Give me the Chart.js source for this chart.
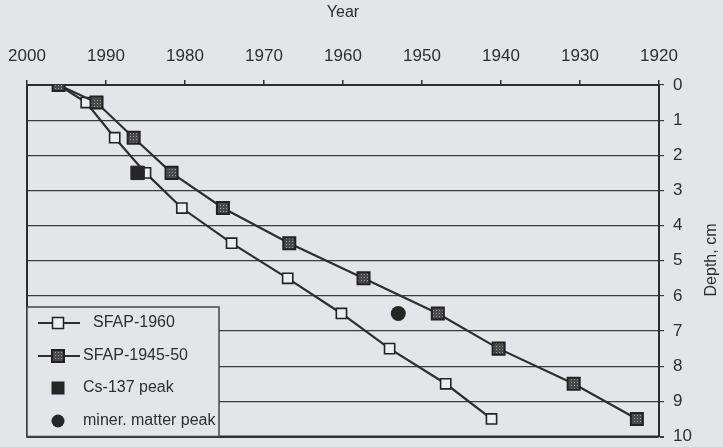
<!DOCTYPE html>
<html>
<head>
<meta charset="utf-8">
<script src="https://cdn.jsdelivr.net/npm/chart.js@4"></script>
<style>
  html, body { margin: 0; padding: 0; background: #e3e5e8; }
  canvas { display: block; }
</style>
</head>
<body>
<canvas id="grafico" width="723" height="447"></canvas>
<script>
// dados (ano x profundidade)
const depths = [0, 0.5, 1.5, 2.5, 3.5, 4.5, 5.5, 6.5, 7.5, 8.5, 9.5];
const years1960 = [1996, 1992.5, 1988.9, 1985.0, 1980.4, 1974.1, 1967.0, 1960.2, 1954.1, 1947.0, 1941.2];
const years194550 = [1996, 1991.2, 1986.5, 1981.7, 1975.2, 1966.8, 1957.4, 1948.0, 1940.3, 1930.8, 1922.8];
const csYear = [1986];
const csDepth = [2.5];
const minerYear = [1953];
const minerDepth = [6.5];
const yearTicks = [2000, 1990, 1980, 1970, 1960, 1950, 1940, 1930, 1920];
const depthTicks = [0, 1, 2, 3, 4, 5, 6, 7, 8, 9, 10];

const BG = '#e3e5e8';
const INK = '#2e2e2e';

function pontos(xs, ys) {
    return xs.map((x, i) => ({ x, y: ys[i] }));
}

// padrão pontilhado dos quadrados escuros
function padraoEscuro() {
    const c = document.createElement('canvas');
    c.width = 3; c.height = 3;
    const g = c.getContext('2d');
    g.fillStyle = '#4a4a4a';
    g.fillRect(0, 0, 3, 3);
    g.fillStyle = '#9c9c9c';
    g.fillRect(1, 1, 1, 1);
    return g.createPattern(c, 'repeat');
}
const hatch = padraoEscuro();

// fundo + moldura esquerda/inferior
const molduraPlugin = {
    id: 'moldura',
    beforeDraw(chart) {
        const ctx = chart.ctx;
        ctx.save();
        ctx.fillStyle = BG;
        ctx.fillRect(0, 0, chart.width, chart.height);
        ctx.restore();
    },
    beforeDatasetsDraw(chart) {
        const { ctx, chartArea: a } = chart;
        ctx.save();
        ctx.strokeStyle = INK;
        ctx.lineWidth = 2;
        ctx.beginPath();
        ctx.moveTo(a.left, a.top);
        ctx.lineTo(a.left, a.bottom);
        ctx.lineTo(a.right, a.bottom);
        ctx.stroke();
        ctx.restore();
    },
    afterDraw(chart) {
        // título do eixo Y (lido de baixo para cima)
        const ctx = chart.ctx;
        ctx.save();
        ctx.translate(712, 260);
        ctx.rotate(-Math.PI / 2);
        ctx.fillStyle = INK;
        ctx.font = '16px "Liberation Sans", Arial, sans-serif';
        ctx.textAlign = 'center';
        ctx.textBaseline = 'middle';
        ctx.fillText('Depth, cm', 0, 0);
        ctx.restore();
    },
};

// legenda dentro da área do gráfico, com caixa
const legendaPlugin = {
    id: 'legendaCaixa',
    afterDatasetsDraw(chart) {
        const { ctx, chartArea: a } = chart;
        const x0 = a.left, y0 = 307, x1 = 219, y1 = a.bottom;
        ctx.save();
        ctx.fillStyle = BG;
        ctx.fillRect(x0, y0, x1 - x0, y1 - y0);
        ctx.strokeStyle = '#444';
        ctx.lineWidth = 1.5;
        ctx.strokeRect(x0, y0, x1 - x0, y1 - y0);

        ctx.font = '16px "Liberation Sans", Arial, sans-serif';
        ctx.textBaseline = 'middle';
        ctx.fillStyle = INK;

        const ds = chart.data.datasets;
        const linhas = [
            { y: 323, tx: 93, linha: true, size: 11, fill: '#eceef0', bw: 1.5 },
            { y: 356, tx: 83, linha: true, size: 12, fill: hatch, bw: 2 },
            { y: 388, tx: 83, linha: false, size: 12, fill: '#262626', bw: 1 },
            { y: 421, tx: 83, linha: false, circle: true, r: 6.5, fill: '#262626' },
        ];
        linhas.forEach((l, i) => {
            const cx = 58;
            if (l.linha) {
                ctx.strokeStyle = INK;
                ctx.lineWidth = 2;
                ctx.beginPath();
                ctx.moveTo(38, l.y);
                ctx.lineTo(80, l.y);
                ctx.stroke();
            }
            if (l.circle) {
                ctx.fillStyle = l.fill;
                ctx.beginPath();
                ctx.arc(cx, l.y, l.r, 0, Math.PI * 2);
                ctx.fill();
            } else {
                const h = l.size / 2;
                ctx.fillStyle = l.fill;
                ctx.fillRect(cx - h, l.y - h, l.size, l.size);
                ctx.strokeStyle = '#222';
                ctx.lineWidth = l.bw;
                ctx.strokeRect(cx - h, l.y - h, l.size, l.size);
            }
            ctx.fillStyle = INK;
            ctx.fillText(ds[i].label, l.tx, l.y);
        });
        ctx.restore();
    },
};

function montarGrafico() {
    const ctx = document.getElementById('grafico').getContext('2d');
    Chart.defaults.font.family = '"Liberation Sans", Arial, sans-serif';
    Chart.defaults.font.size = 16;
    Chart.defaults.color = INK;

    new Chart(ctx, {
        type: 'scatter',
        data: {
            datasets: [
                {
                    label: 'SFAP-1960',
                    data: pontos(years1960, depths),
                    showLine: true,
                    borderColor: INK,
                    borderWidth: 2.2,
                    pointStyle: 'rect',
                    pointRadius: 7.2,
                    pointBorderWidth: 1.6,
                    pointBorderColor: '#222',
                    pointBackgroundColor: '#eceef0',
                    order: 3,
                },
                {
                    label: 'SFAP-1945-50',
                    data: pontos(years194550, depths),
                    showLine: true,
                    borderColor: INK,
                    borderWidth: 2.2,
                    pointStyle: 'rect',
                    pointRadius: 8.5,
                    pointBorderWidth: 2,
                    pointBorderColor: '#222',
                    pointBackgroundColor: hatch,
                    order: 2,
                },
                {
                    label: 'Cs-137 peak',
                    data: pontos(csYear, csDepth),
                    pointStyle: 'rect',
                    pointRadius: 9.5,
                    pointBorderWidth: 1,
                    pointBorderColor: '#222',
                    pointBackgroundColor: '#262626',
                    order: 1,
                },
                {
                    label: 'miner. matter peak',
                    data: pontos(minerYear, minerDepth),
                    pointStyle: 'circle',
                    pointRadius: 7.5,
                    pointBorderWidth: 0,
                    pointBackgroundColor: '#262626',
                    order: 1,
                },
            ],
        },
        options: {
            responsive: false,
            animation: false,
            layout: { padding: { left: 27, right: 0, top: 0, bottom: 9 } },
            plugins: {
                legend: { display: false },
                tooltip: { enabled: false },
            },
            scales: {
                x: {
                    type: 'linear',
                    position: 'top',
                    reverse: true,
                    min: 1920,
                    max: 2000,
                    afterBuildTicks: (s) => { s.ticks = yearTicks.map((v) => ({ value: v })); },
                    afterFit: (s) => {
                        s.height = 85;
                        s.paddingLeft = 0;
                        s.paddingRight = 0;
                    },
                    ticks: {
                        font: { size: 17 },
                        padding: 13,
                        maxRotation: 0,
                        autoSkip: false,
                        callback: (v) => String(v),
                    },
                    grid: { drawOnChartArea: false, drawTicks: true, tickLength: 5, color: INK, lineWidth: 1.5 },
                    border: { display: true, color: INK, width: 2 },
                    title: { display: true, text: 'Year', padding: { top: 3 }, font: { size: 16 } },
                },
                y: {
                    type: 'linear',
                    position: 'right',
                    reverse: true,
                    min: 0,
                    max: 10,
                    afterBuildTicks: (s) => { s.ticks = depthTicks.map((v) => ({ value: v })); },
                    afterFit: (s) => {
                        s.width = 64;
                        s.paddingTop = 0;
                        s.paddingBottom = 0;
                    },
                    ticks: { font: { size: 17 }, padding: 9 },
                    grid: {
                        color: '#3c3c3c',
                        lineWidth: (c) => (c.tick && c.tick.value === 10 ? 2 : 1.2),
                        tickLength: 5,
                    },
                    border: { display: true, color: INK, width: 2 },
                },
            },
        },
        plugins: [molduraPlugin, legendaPlugin],
    });
}

document.addEventListener('DOMContentLoaded', montarGrafico);
</script>
</body>
</html>
